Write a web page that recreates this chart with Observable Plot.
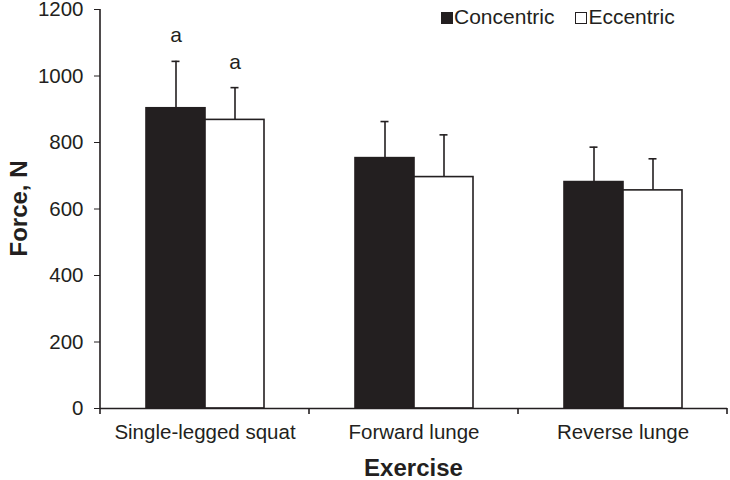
<!DOCTYPE html>
<html><head><meta charset="utf-8">
<script src="https://cdn.jsdelivr.net/npm/d3@7"></script>
<script src="https://cdn.jsdelivr.net/npm/@observablehq/plot@0.6"></script>
<style>
body{margin:0;background:#fff;}
#wrap{position:relative;width:730px;height:480px;font-family:"Liberation Sans",Arial,sans-serif;color:#231f20;}
#legend{position:absolute;left:441px;top:5px;font-size:21px;line-height:24px;white-space:nowrap;}
#legend .sw{display:inline-block;width:10px;height:10px;border:1px solid #231f20;vertical-align:0px;margin-right:1px;}
</style>
</head><body><div id="wrap"><div id="legend"></div></div>
<script>
const exercises = ["Single-legged squat", "Forward lunge", "Reverse lunge"];
const types = ["Concentric", "Eccentric"];
const typeColors = ["#231f20", "#ffffff"];
const concentricMean = [903, 753, 681];
const concentricSD = [141, 110, 105];
const eccentricMean = [868, 696, 656];
const eccentricSD = [97, 127, 95];
const concentricSig = ["a", "", ""];
const eccentricSig = ["a", "", ""];
const yTicks = [0, 200, 400, 600, 800, 1000, 1200];
const yLabel = "Force, N";
const xLabel = "Exercise";

const ink = "#231f20";
const rows = [];
exercises.forEach((ex, i) => {
  rows.push({exercise: ex, type: types[0], mean: concentricMean[i], sd: concentricSD[i], sig: concentricSig[i]});
  rows.push({exercise: ex, type: types[1], mean: eccentricMean[i], sd: eccentricSD[i], sig: eccentricSig[i]});
});
const upper = d => d.mean + d.sd;

const chart = Plot.plot({
  width: 730,
  height: 480,
  marginLeft: 100,
  marginRight: 3,
  marginTop: 9,
  marginBottom: 72,
  style: {fontFamily: "'Liberation Sans', Arial, sans-serif", fontSize: "20.5px", color: ink, background: "#fff", overflow: "visible"},
  fx: {domain: exercises, padding: 0, label: null, tickSize: 0, tickPadding: 16},
  x: {domain: types, axis: null, paddingInner: 0, paddingOuter: 0.744},
  y: {domain: [0, 1200], ticks: yTicks, tickFormat: d => String(d), tickSize: 6, tickPadding: 11, label: null},
  color: {domain: types, range: typeColors},
  marks: [
    Plot.ruleX(rows, {fx: "exercise", x: "type", y1: "mean", y2: upper, stroke: ink, strokeWidth: 1.6}),
    Plot.tickY(rows, {fx: "exercise", x: "type", y: upper, stroke: ink, strokeWidth: 1.6, insetLeft: 25.5, insetRight: 25.5}),
    Plot.barY(rows, {fx: "exercise", x: "type", y: "mean", fill: "type", stroke: ink, strokeWidth: 1.6}),
    Plot.text(rows, {fx: "exercise", x: "type", y: upper, text: "sig", lineAnchor: "bottom", dy: -19, fontSize: 21, fill: ink}),
    Plot.ruleY([0], {stroke: ink, strokeWidth: 1.6})
  ]
});

// axis line and category boundary ticks, from the plot's own scales
const fx = chart.scale("fx");
const y = chart.scale("y");
const svg = d3.select(chart);
const left = fx.apply(exercises[0]);
const g = svg.append("g").attr("stroke", ink).attr("stroke-width", 1.6);
g.append("line").attr("x1", left).attr("x2", left).attr("y1", y.apply(0)).attr("y2", y.apply(1200));
const bounds = exercises.map(e => fx.apply(e)).concat([fx.apply(exercises[exercises.length - 1]) + fx.bandwidth]);
bounds.forEach(b => g.append("line").attr("x1", b).attr("x2", b).attr("y1", y.apply(0)).attr("y2", y.apply(0) + 6));

// axis titles
svg.append("text").attr("x", (left + bounds[bounds.length - 1]) / 2).attr("y", 476)
  .attr("text-anchor", "middle").attr("font-weight", "bold").attr("font-size", 24).attr("fill", ink).text(xLabel);
svg.append("text").attr("transform", `translate(27,${(y.apply(0) + y.apply(1200)) / 2}) rotate(-90)`)
  .attr("text-anchor", "middle").attr("font-weight", "bold").attr("font-size", 24).attr("fill", ink).text(yLabel);

document.getElementById("wrap").appendChild(chart);
chart.style.position = "absolute";
chart.style.left = "0";
chart.style.top = "0";

const legend = document.getElementById("legend");
legend.style.zIndex = 2;
legend.innerHTML = types.map((t, i) =>
  `<span class="sw" style="background:${typeColors[i]}"></span>${t}`).join('<span style="display:inline-block;width:21px"></span>');
</script>
</body></html>
